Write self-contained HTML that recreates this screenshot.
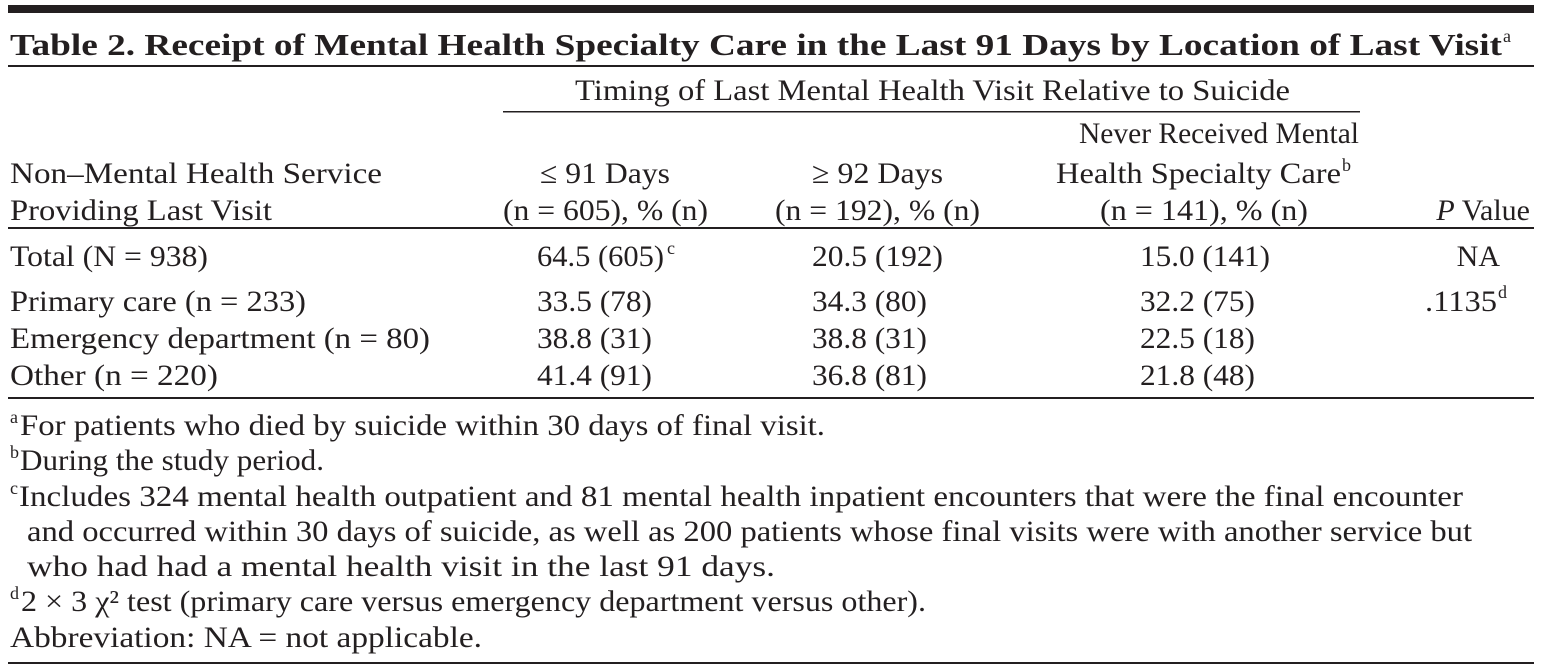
<!DOCTYPE html>
<html><head><meta charset="utf-8"><style>
html,body{margin:0;padding:0;background:#fff;}
svg{display:block;}
text{font-family:"Liberation Serif",serif;fill:#231f20;font-size:30px;}
.b{font-weight:bold;font-size:31px;}
.s{font-size:18px;}
</style></head><body>
<svg width="1542" height="670" viewBox="0 0 1542 670">
<rect x="8" y="5" width="1526" height="8" fill="#231f20"/>
<text class="b" x="10" y="55" textLength="1492" lengthAdjust="spacingAndGlyphs">Table 2. Receipt of Mental Health Specialty Care in the Last 91 Days by Location of Last Visit</text>
<text class="s" x="1503" y="42">a</text>
<rect x="8" y="65" width="1526" height="2" fill="#231f20"/>
<text x="575" y="100" textLength="715" lengthAdjust="spacingAndGlyphs">Timing of Last Mental Health Visit Relative to Suicide</text>
<rect x="503" y="111" width="857" height="1.5" fill="#231f20"/>

<text x="10" y="183" textLength="372" lengthAdjust="spacingAndGlyphs">Non–Mental Health Service</text>
<text x="10" y="220" textLength="262" lengthAdjust="spacingAndGlyphs">Providing Last Visit</text>
<text x="540" y="183" textLength="130" lengthAdjust="spacingAndGlyphs">≤ 91 Days</text>
<text x="503" y="220" textLength="205" lengthAdjust="spacingAndGlyphs">(n = 605), % (n)</text>
<text x="812" y="183" textLength="131" lengthAdjust="spacingAndGlyphs">≥ 92 Days</text>
<text x="775" y="220" textLength="205" lengthAdjust="spacingAndGlyphs">(n = 192), % (n)</text>
<text x="1079" y="143" textLength="280" lengthAdjust="spacingAndGlyphs">Never Received Mental</text>
<text x="1056" y="183" textLength="285" lengthAdjust="spacingAndGlyphs">Health Specialty Care</text>
<text class="s" x="1342" y="171">b</text>
<text x="1100" y="220" textLength="208" lengthAdjust="spacingAndGlyphs">(n = 141), % (n)</text>
<text x="1530" y="220" text-anchor="end"><tspan font-style="italic">P</tspan> Value</text>
<rect x="8" y="227" width="1526" height="2" fill="#231f20"/>

<g>
<text x="10" y="266" textLength="198" lengthAdjust="spacingAndGlyphs">Total (N = 938)</text>
<text x="537" y="266" textLength="127" lengthAdjust="spacingAndGlyphs">64.5 (605)</text><text class="s" x="667" y="254">c</text>
<text x="812" y="266" textLength="131" lengthAdjust="spacingAndGlyphs">20.5 (192)</text>
<text x="1140" y="266" textLength="130" lengthAdjust="spacingAndGlyphs">15.0 (141)</text>
<text x="1500" y="266" text-anchor="end">NA</text>
</g>
<g>
<text x="10" y="311" textLength="296" lengthAdjust="spacingAndGlyphs">Primary care (n = 233)</text>
<text x="537" y="311" textLength="115" lengthAdjust="spacingAndGlyphs">33.5 (78)</text>
<text x="812" y="311" textLength="115" lengthAdjust="spacingAndGlyphs">34.3 (80)</text>
<text x="1140" y="311" textLength="115" lengthAdjust="spacingAndGlyphs">32.2 (75)</text>
<text x="1425" y="311" textLength="72" lengthAdjust="spacingAndGlyphs">.1135</text><text class="s" x="1498" y="298">d</text>
</g>
<g>
<text x="10" y="348" textLength="420" lengthAdjust="spacingAndGlyphs">Emergency department (n = 80)</text>
<text x="537" y="348" textLength="115" lengthAdjust="spacingAndGlyphs">38.8 (31)</text>
<text x="812" y="348" textLength="115" lengthAdjust="spacingAndGlyphs">38.8 (31)</text>
<text x="1140" y="348" textLength="115" lengthAdjust="spacingAndGlyphs">22.5 (18)</text>
</g>
<g>
<text x="10" y="385" textLength="208" lengthAdjust="spacingAndGlyphs">Other (n = 220)</text>
<text x="537" y="385" textLength="115" lengthAdjust="spacingAndGlyphs">41.4 (91)</text>
<text x="812" y="385" textLength="115" lengthAdjust="spacingAndGlyphs">36.8 (81)</text>
<text x="1140" y="385" textLength="115" lengthAdjust="spacingAndGlyphs">21.8 (48)</text>
</g>
<rect x="8" y="397" width="1526" height="2" fill="#231f20"/>

<g>
<text class="s" x="10" y="423">a</text>
<text x="20" y="435" textLength="805" lengthAdjust="spacingAndGlyphs">For patients who died by suicide within 30 days of final visit.</text>
<text class="s" x="10" y="458">b</text>
<text x="20" y="470" textLength="304" lengthAdjust="spacingAndGlyphs">During the study period.</text>
<text class="s" x="10" y="494">c</text>
<text x="19" y="506" textLength="1444" lengthAdjust="spacingAndGlyphs">Includes 324 mental health outpatient and 81 mental health inpatient encounters that were the final encounter</text>
<text x="27" y="541" textLength="1445" lengthAdjust="spacingAndGlyphs">and occurred within 30 days of suicide, as well as 200 patients whose final visits were with another service but</text>
<text x="27" y="576" textLength="748" lengthAdjust="spacingAndGlyphs">who had had a mental health visit in the last 91 days.</text>
<text class="s" x="10" y="599">d</text>
<text x="21" y="611" textLength="905" lengthAdjust="spacingAndGlyphs">2 × 3 χ² test (primary care versus emergency department versus other).</text>
<text x="10" y="647" textLength="472" lengthAdjust="spacingAndGlyphs">Abbreviation: NA = not applicable.</text>
</g>
<rect x="8" y="662" width="1526" height="2" fill="#231f20"/>
</svg>
</body></html>
